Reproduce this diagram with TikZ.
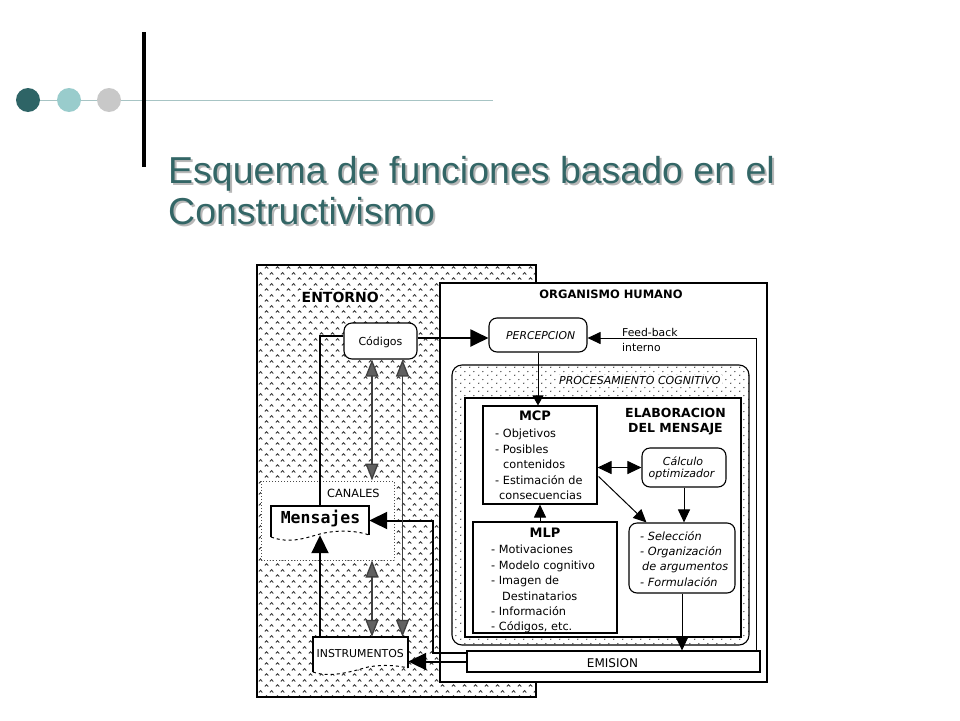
\documentclass[tikz,border=0pt]{standalone}
\usepackage{fontspec}
\setmainfont{Liberation Sans}
\newfontfamily\dv{DejaVu Sans}
\newfontfamily\dvm{DejaVu Sans Mono}
\usetikzlibrary{arrows.meta,patterns,calc,fit}
\definecolor{tealA}{HTML}{2E6466}
\definecolor{tealB}{HTML}{99CCCC}
\definecolor{grayC}{HTML}{C8C8C8}
\definecolor{ttl}{HTML}{336666}
\definecolor{hline}{HTML}{A7C4C4}
\pgfdeclarepatternformonly{chevrons}{\pgfqpoint{0pt}{0pt}}{\pgfqpoint{11pt}{11pt}}{\pgfqpoint{11pt}{11pt}}{%
  \pgfsetlinewidth{0.95pt}%
  \pgfpathmoveto{\pgfqpoint{0.9pt}{1.6pt}}\pgfpathlineto{\pgfqpoint{2.75pt}{3.6pt}}\pgfpathlineto{\pgfqpoint{4.6pt}{1.6pt}}%
  \pgfpathmoveto{\pgfqpoint{6.4pt}{7.1pt}}\pgfpathlineto{\pgfqpoint{8.25pt}{9.1pt}}\pgfpathlineto{\pgfqpoint{10.1pt}{7.1pt}}%
  \pgfusepath{stroke}}
\pgfdeclarepatternformonly{sdots}{\pgfqpoint{0pt}{0pt}}{\pgfqpoint{9pt}{8pt}}{\pgfqpoint{9pt}{8pt}}{%
  \pgfpathcircle{\pgfqpoint{2pt}{2pt}}{0.75pt}%
  \pgfpathcircle{\pgfqpoint{6.5pt}{6pt}}{0.75pt}%
  \pgfusepath{fill}}
\newcommand{\shadowed}[1]{\rlap{\hspace{2pt}\raisebox{-2pt}{\textcolor{black!28}{#1}}}#1}
\begin{document}
\begin{tikzpicture}[x=1pt,y=-1pt,
  box/.style={draw, line width=1.1pt, inner sep=0pt, fill=white},
  rbox/.style={box, rounded corners=8pt},
  txt/.style={inner sep=0pt, anchor=base west, font={\dv\fontsize{11.3}{13}\selectfont}},
  itx/.style={inner sep=0pt, anchor=base west, font={\dv\itshape\fontsize{11.3}{13}\selectfont}},
  hd/.style={inner sep=0pt, anchor=base, font={\dv\bfseries\fontsize{12.5}{14}\selectfont}},
  ttlstyle/.style={inner sep=0pt, anchor=base west, text=ttl, font={\fontsize{37.5}{41}\selectfont}},
  bigarr/.style={line width=2pt, -{Triangle[length=18pt,width=17pt]}},
  medarr/.style={line width=1pt, -{Triangle[length=13pt,width=12pt]}},
  smlarr/.style={line width=1pt, -{Triangle[length=10pt,width=11pt]}},
  dblarr/.style={line width=1pt, {Triangle[length=14pt,width=13pt]}-{Triangle[length=14pt,width=13pt]}},
  grdbl/.style={line width=1.3pt, draw=black!75, {Triangle[length=17pt,width=13pt,fill=black!62]}-{Triangle[length=17pt,width=13pt,fill=black!62]}}
]
\fill[white] (0,0) rectangle (960,720);
\useasboundingbox (0,0) rectangle (960,720);

% ---------- header ----------
\draw[hline, line width=1pt] (33,100) -- (493,100);
\fill[tealA] (28,100) circle[radius=12pt];
\fill[tealB] (69,100) circle[radius=12pt];
\fill[grayC] (109,100) circle[radius=12pt];
\fill[black] (142,32) rectangle (146,167);
\node[ttlstyle] (t1) at (168,183) {\shadowed{Esquema de funciones basado en el}};
\node[ttlstyle] (t2) at (168,224) {\shadowed{Constructivismo}};

% ---------- ENTORNO ----------
\node[draw, line width=1.2pt, inner sep=0pt, pattern=chevrons, pattern color=black!80, fit={(257,265) (536,697)}] (entorno) {};
\node[hd, anchor=base west, fill=white, inner sep=1.5pt, font={\dv\bfseries\fontsize{14}{16}\selectfont}] (entt) at (300,302) {ENTORNO};

% ---------- ORGANISMO ----------
\node[box, line width=1.2pt, fit={(440,283) (767,682)}] (org) {};
\node[hd, font={\dv\bfseries\fontsize{11.5}{13}\selectfont}] (orgt) at (611,298) {ORGANISMO HUMANO};

% CANALES
\node[draw=black!70, dotted, line width=1pt, fill=white, inner sep=0pt, fit={(261,481) (394,560)}] (canales) {};
\node[txt] (cant) at (327,497.5) {CANALES};

% Codigos
\node[rbox, fit={(344,323) (417,359)}] (codigos) {};
\node[txt, anchor=base, font={\dv\fontsize{11}{13}\selectfont}] (codt) at (380.5,345) {Códigos};

% Percepcion
\node[rbox, fit={(489,318) (587,352)}] (percep) {};
\node[itx, font={\dv\itshape\fontsize{10.8}{13}\selectfont}] (pert) at (506,339) {PERCEPCION};
\node[txt, font={\dv\fontsize{10.8}{13}\selectfont}] (fb1) at (622,336) {Feed-back};
\node[txt, font={\dv\fontsize{10.8}{13}\selectfont}] (fb2) at (622,351) {interno};

% Procesamiento
\node[draw, line width=1.1pt, rounded corners=10pt, inner sep=0pt, pattern=sdots, pattern color=black!85, fit={(452,365) (749,645)}] (proc) {};
\node[itx, fill=white, inner sep=1pt, font={\dv\itshape\fontsize{11}{13}\selectfont}] (proct) at (558,384) {PROCESAMIENTO COGNITIVO};

% Elaboracion
\node[box, line width=1.5pt, fit={(465,398) (741,637)}] (elab) {};
\node[hd] (el1) at (675.5,417) {ELABORACION};
\node[hd] (el2) at (675.5,432) {DEL MENSAJE};

% MCP
\node[box, fit={(483,406) (597,504)}] (mcp) {};
\node[hd, font={\dv\bfseries\fontsize{13}{15}\selectfont}] (mcpt) at (535,420) {MCP};
\foreach \t/\x/\y [count=\i] in {{- Objetivos}/495/437, {- Posibles}/495/453, {contenidos}/503/468, {- Estimación de}/495/484, {consecuencias}/499/499}
  \node[txt] (mcpl\i) at (\x,\y) {\t};

% MLP
\node[box, fit={(473,522) (617,633)}] (mlp) {};
\node[hd, font={\dv\bfseries\fontsize{13}{15}\selectfont}] (mlpt) at (545,537) {MLP};
\foreach \t/\x/\y [count=\i] in {{- Motivaciones}/491/553.5, {- Modelo cognitivo}/491/569, {- Imagen de}/491/584.5, {Destinatarios}/502/600, {- Información}/491/615, {- Códigos, etc.}/491/630}
  \node[txt] (mlpl\i) at (\x,\y) {\t};

% Calculo
\node[rbox, fit={(642,448) (726,487)}] (calc) {};
\node[itx, anchor=base, font={\dv\itshape\fontsize{11}{13}\selectfont}] (calt1) at (683,465) {Cálculo};
\node[itx, anchor=base, font={\dv\itshape\fontsize{11}{13}\selectfont}] (calt2) at (681.5,477) {optimizador};

% Seleccion
\node[rbox, fit={(629,523) (735,593)}] (sel) {};
\foreach \t/\x/\y [count=\i] in {{- Selección}/640/540, {- Organización}/640/555, {de argumentos}/642/570.5, {- Formulación}/640/586}
  \node[itx] (sell\i) at (\x,\y) {\t};

% Emision
\node[box, fit={(467,651) (760,672)}] (emision) {};
\node[txt, anchor=base, font={\dv\fontsize{12}{14}\selectfont}] (emt) at (612.5,667) {EMISION};

% Mensajes (document shape)
\fill[white] (271,506) -- (369,506) -- (369,535) .. controls (355,530) and (335,530) .. (320,534) .. controls (305,538) and (290,544) .. (271,537) -- cycle;
\draw[line width=1.1pt] (271,537) -- (271,506) -- (369,506) -- (369,535);
\draw[line width=1pt, dashed] (271,537) .. controls (290,544) and (305,538) .. (320,534) .. controls (335,530) and (355,530) .. (369,535);
\node[inner sep=0pt, fit={(271,506) (369,535)}] (msgbox) {};
\node[inner sep=0pt, anchor=base, font={\dvm\bfseries\fontsize{16.5}{18}\selectfont}] (mensajes) at (320.5,523) {Mensajes};

% Instrumentos (document shape)
\fill[white] (313,637) -- (408,637) -- (408,668) .. controls (400,666) and (385,664) .. (368,667) .. controls (350,672) and (330,678) .. (313,672) -- cycle;
\draw[line width=1.1pt] (313,672) -- (313,637) -- (408,637) -- (408,668);
\draw[line width=1pt, dashed] (313,672) .. controls (330,678) and (350,672) .. (368,667) .. controls (385,664) and (400,666) .. (408,668);
\node[inner sep=0pt, fit={(313,637) (408,668)}] (instr) {};
\node[txt, font={\dv\fontsize{10.9}{13}\selectfont}] (instt) at (316.5,657) {INSTRUMENTOS};

% ---------- connectors ----------
\coordinate (cp) at ($(codigos.east)+(0,-3)$);
\draw[bigarr] (cp) -- (cp -| percep.west);
\coordinate (cw) at ($(codigos.west)+(0,-5)$);
\draw[line width=2pt] (cw) -| (msgbox.north);
\draw[bigarr] (instr.north -| msgbox.south) -- (msgbox.south);
\coordinate (eu) at ($(emision.north west)+(0,3)$);
\coordinate (mr) at ($(msgbox.east)+(64,0)$);
\draw[bigarr] (eu) -| (mr) -- (msgbox.east);
\draw[bigarr] (emision.west) -- (emision.west -| instr.east);

\coordinate (ga) at ($(codigos.south)+(-8.5,0)$);
\coordinate (gb) at ($(codigos.south)+(22,0)$);
\draw[grdbl] (ga) -- (ga |- canales.north);
\draw[grdbl] (ga |- canales.south) -- (ga |- instr.north);
\draw[grdbl] (gb) -- (gb |- instr.north);

\draw[smlarr] (percep.south) -- (percep.south |- mcp.north);
\coordinate (fb) at ($(emision.north east)+(-4,0)$);
\coordinate (pe) at ($(percep.east)+(0,3)$);
\draw[medarr] (fb) |- (pe);
\draw[medarr] (mcp.south |- mlp.north) -- (mcp.south);
\draw[dblarr] (calc.west -| mcp.east) -- (calc.west);
\coordinate (md) at ($(mcp.north east)+(1,71)$);
\coordinate (sd) at ($(sel.north west)+(18,0)$);
\draw[medarr] (md) -- (sd);
\draw[medarr] (calc.south) -- (calc.south |- sel.north);
\draw[medarr] (sel.south) -- (sel.south |- emision.north);
\end{tikzpicture}
\end{document}
